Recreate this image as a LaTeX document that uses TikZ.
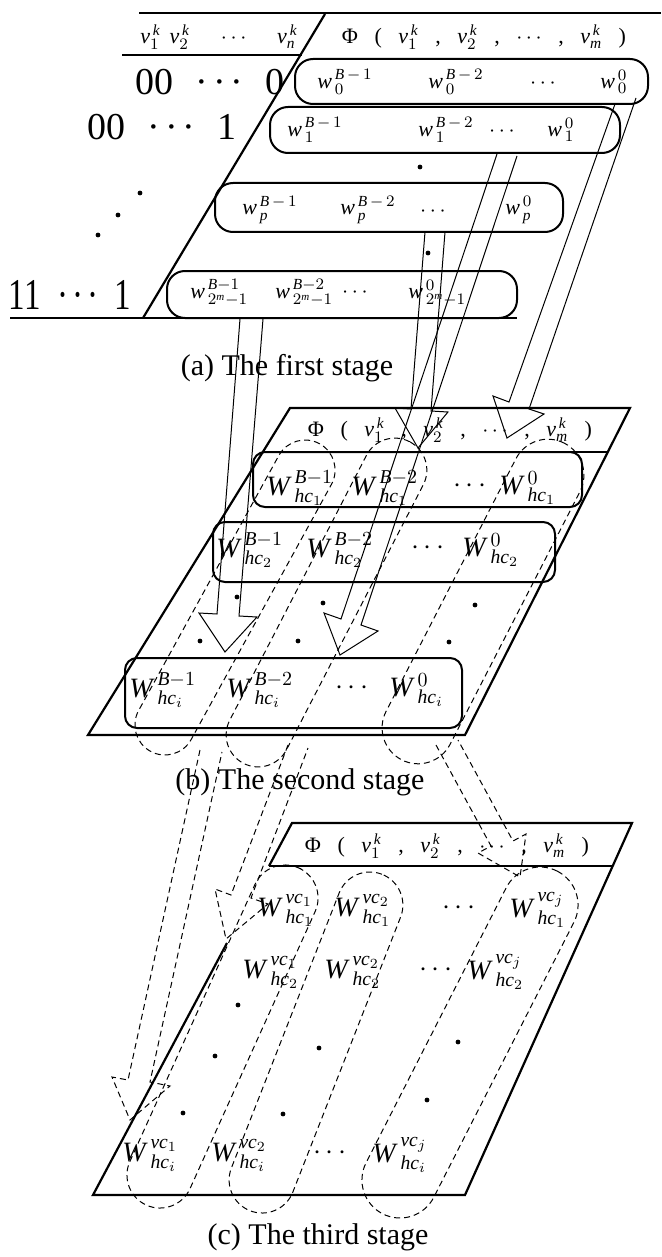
\documentclass[tikz,border=0pt]{standalone}
\usepackage{fontspec}
\setmainfont{Liberation Serif}
\newcommand{\vk}[1]{$\mathit{v}^{\,\mathit{k}}_{#1}$}
\newcommand{\wa}[2]{$\mathit{w}^{\,#1}_{\,#2}$}
\newcommand{\wb}[2]{$\mathit{W}\mkern3mu{}^{#1}_{#2}$}
\newcommand{\gap}{\hspace{0.75em}}
\newcommand{\mdots}{·\hspace{0.12em}·\hspace{0.12em}·}
\newcommand{\phirow}{Φ\gap(\gap\vk{1}\gap,\gap\vk{2}\gap,\gap$\cdots$\gap,\gap\vk{\mathit{m}}\gap)}
\tikzset{
  frame/.style={line width=1.1pt},
  abox/.style={draw, line width=1pt, rounded corners=9pt, inner sep=0pt},
  bbox/.style={draw, line width=1pt, rounded corners=6pt, inner sep=0pt},
  hollow/.style={line width=0.5pt, line join=miter},
  dhollow/.style={line width=0.5pt, dash pattern=on 3pt off 2pt},
  pill/.style={draw, line width=0.5pt, dash pattern=on 3pt off 2pt, inner sep=0pt},
  hdr/.style={inner sep=0pt, font=\fontsize{11}{13}\selectfont},
  lbl/.style={inner sep=0pt, font=\fontsize{19}{22}\selectfont},
  aterm/.style={anchor=west, inner sep=0pt, font=\fontsize{11}{13}\selectfont},
  wterm/.style={anchor=west, inner sep=0pt, font=\fontsize{14}{16}\selectfont},
  dot/.style={circle, fill, inner sep=0pt, minimum size=2.4pt},
  capt/.style={inner sep=0pt, font=\fontsize{15}{18}\selectfont},
}
\begin{document}
\begin{tikzpicture}[x=0.5pt,y=-0.5pt]
\useasboundingbox (0,0) rectangle (661,1257);

% (a) the first stage: code table
\draw[frame] (139,13) -- (661,13);
\draw[frame] (122,55) -- (302,55);
\draw[frame] (325,14) -- (143,318);
\draw[frame] (10,318) -- (517,318);
\node[hdr] (vhead) at (219,37) {\vk{1}\hspace{0.4em}\vk{2}\hspace{1.4em}$\cdots$\hspace{1.4em}\vk{\mathit{n}}};
\node[hdr] (phia) at (484,37) {\phirow};
\node[lbl] (code0) at (210,82) {00\hspace{0.6em}\mdots\hspace{0.6em}0};
\node[lbl] (code1) at (162,127) {00\hspace{0.6em}\mdots\hspace{0.6em}1};
\node[lbl, font=\fontsize{22}{24}\selectfont, xscale=0.75] (codel) at (70,295) {11\hspace{0.5em}\mdots\hspace{0.5em}1};
\foreach \x/\y [count=\i] in {140/193,118/215,98/235,420/167,428/253}
  \node[dot] (pa\i) at (\x,\y) {};

% weight rows
\node[abox, minimum width=176.5pt, minimum height=22.5pt] (box0) at (471.5,81.5) {};
\node[abox, minimum width=175pt, minimum height=23pt] (box1) at (445,130) {};
\node[abox, minimum width=174pt, minimum height=24.5pt] (boxp) at (389,207.5) {};
\node[abox, minimum width=175pt, minimum height=23.5pt] (boxl) at (342,294.5) {};
\foreach \x/\s [count=\i] in {317/\mathit{B}\,-\,1, 428/\mathit{B}\,-\,2, 600/0}
  \node[aterm] (w0-\i) at (\x,82) {\wa{\s}{0}};
\foreach \x/\s [count=\i] in {287/\mathit{B}\,-\,1, 418/\mathit{B}\,-\,2, 547/0}
  \node[aterm] (w1-\i) at (\x,130) {\wa{\s}{1}};
\foreach \x/\s [count=\i] in {242/\mathit{B}\,-\,1, 340/\mathit{B}\,-\,2, 505/0}
  \node[aterm] (wp-\i) at (\x,210) {\wa{\s}{\mathit{p}}};
\foreach \x/\s [count=\i] in {190/\mathit{B}-1, 275/\mathit{B}-2, 408/0}
  \node[aterm] (wl-\i) at (\x,293) {\wa{\s}{2^{\mathit{m}}-1}};
\node[hdr] (dots0) at (543,84) {$\cdots$};
\node[hdr] (dots1) at (502,132) {$\cdots$};
\node[hdr] (dotsp) at (433,212) {$\cdots$};
\node[hdr] (dotsl) at (355,293) {$\cdots$};

% hollow arrows down to the second stage
\draw[hollow] (240,319) -- (217,614) -- (199,613) -- (225,652) -- (257,617) -- (239,616) -- (263,319);
\draw[hollow] (497,154) -- (341,619) -- (324,613) -- (340,655) -- (378,631) -- (361,625) -- (517,156);
\draw[hollow] (425,232) -- (411,409) -- (395,408) -- (418,448) -- (448,412) -- (431,411) -- (445,232);
\draw[hollow] (615,104) -- (509,402) -- (493,396) -- (507,438) -- (544,414) -- (529,409) -- (636,98);

\node[capt] (capa) at (287,368) {(a) The first stage};

% (b) the second stage
\draw[frame] (290,408) -- (630,408) -- (465,735) -- (88,735) -- cycle;
\draw[frame] (263,452) -- (608,452);
\node[hdr] (phib) at (450,430) {\phirow};
\node[bbox, minimum width=164.5pt, minimum height=27.5pt] (hc1) at (417.5,479.5) {};
\node[bbox, minimum width=171pt, minimum height=30pt] (hc2) at (384,552) {};
\node[bbox, minimum width=168.5pt, minimum height=35pt] (hci) at (293.5,693) {};
\foreach \x/\s [count=\i] in {266/\mathit{B}-1, 351/\mathit{B}-2, 499/0}
  \node[wterm] (u1-\i) at (\x,488) {\wb{\s}{\mathit{hc}_1}};
\foreach \x/\s [count=\i] in {216/\mathit{B}-1, 306/\mathit{B}-2, 462/0}
  \node[wterm] (u2-\i) at (\x,550) {\wb{\s}{\mathit{hc}_2}};
\foreach \x/\s [count=\i] in {129/\mathit{B}-1, 226/\mathit{B}-2, 389/0}
  \node[wterm] (ui-\i) at (\x,690) {\wb{\s}{\mathit{hc}_i}};
\node[wterm, anchor=center] (udots1) at (470,486) {$\cdots$};
\node[wterm, anchor=center] (udots2) at (428,548) {$\cdots$};
\node[wterm, anchor=center] (udotsi) at (352,688) {$\cdots$};
\foreach \x/\y [count=\i] in {237/597,323/603,475/605,200/641,298/641,449/642}
  \node[dot] (pb\i) at (\x,\y) {};
% bit-plane columns
\node[pill, minimum width=30pt, minimum height=175.5pt, rounded corners=15pt, rotate=-28.8] (colb1) at (235,597.5) {};
\node[pill, minimum width=32pt, minimum height=181pt, rounded corners=16pt, rotate=-27.3] (colb2) at (326.5,602.5) {};
\node[pill, minimum width=36pt, minimum height=178pt, rounded corners=18pt, rotate=-27.2] (colb0) at (483,601.5) {};

% dashed arrows down to the third stage
\draw[dhollow] (200,750) -- (128,1080) -- (112,1077) -- (130,1120) -- (170,1086) -- (150,1082) -- (222,752);
\draw[dhollow] (288,745) -- (231,895) -- (215,889) -- (226,939) -- (268,904) -- (251,898) -- (308,748);
\draw[dhollow] (436,745) -- (491,846) -- (478,853) -- (520,877) -- (526,834) -- (513,841) -- (458,740);

\node[capt] (capb) at (300,782) {(b) The second stage};

% (c) the third stage
\draw[frame] (269,866) -- (292,823) -- (632,823) -- (465,1195) -- (93,1195) -- (227,943);
\draw[frame] (269,866) -- (613,866);
\node[hdr] (phic) at (447,846) {\phirow};
\foreach \x/\s [count=\i] in {257/\mathit{vc}_1, 334/\mathit{vc}_2, 509/\mathit{vc}_j}
  \node[wterm] (v1-\i) at (\x,910) {\wb{\s}{\mathit{hc}_1}};
\foreach \x/\s [count=\i] in {242/\mathit{vc}_1, 324/\mathit{vc}_2, 467/\mathit{vc}_j}
  \node[wterm] (v2-\i) at (\x,972) {\wb{\s}{\mathit{hc}_2}};
\foreach \x/\s [count=\i] in {122/\mathit{vc}_1, 211/\mathit{vc}_2, 372/\mathit{vc}_j}
  \node[wterm] (vi-\i) at (\x,1155) {\wb{\s}{\mathit{hc}_i}};
\node[wterm, anchor=center] (vdots1) at (459,908) {$\cdots$};
\node[wterm, anchor=center] (vdots2) at (436,970) {$\cdots$};
\node[wterm, anchor=center] (vdotsi) at (330,1153) {$\cdots$};
\foreach \x/\y [count=\i] in {238/1005,215/1056,319/1048,458/1042,427/1100,183/1113,283/1114}
  \node[dot] (pc\i) at (\x,\y) {};
% value columns
\node[pill, minimum width=33pt, minimum height=185pt, rounded corners=16.5pt, rotate=-24.3] (colc1) at (222.5,1036.5) {};
\node[pill, minimum width=33pt, minimum height=180.7pt, rounded corners=16.5pt, rotate=-21.4] (colc2) at (316,1042.5) {};
\node[pill, minimum width=38pt, minimum height=192.3pt, rounded corners=19pt, rotate=-27] (colcj) at (470,1042.5) {};

\node[capt] (capc) at (318,1237) {(c) The third stage};
\end{tikzpicture}
\end{document}
